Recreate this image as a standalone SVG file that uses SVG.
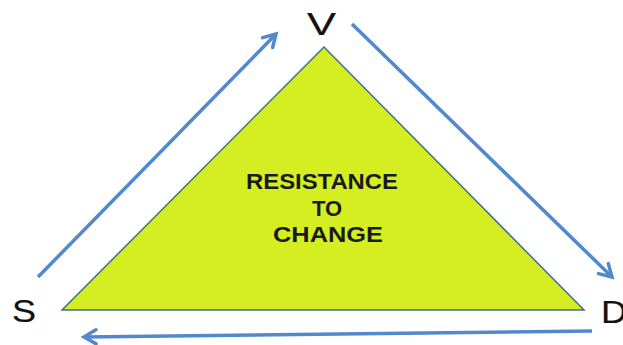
<svg xmlns="http://www.w3.org/2000/svg" width="623" height="345" viewBox="0 0 623 345">
  <style>
    .flow { fill: none; stroke: #5288cc; stroke-width: 3.5; marker-end: url(#chevron); }
    .corner { font-family: "Liberation Sans", Arial, sans-serif; font-size: 32px; fill: #111111; stroke: #111111; stroke-width: 0.2; }
    .core { font-family: "Liberation Sans", Arial, sans-serif; font-size: 22px; font-weight: bold; fill: #1a1a1a; text-anchor: middle; }
  </style>
  <defs>
    <marker id="chevron" viewBox="0 0 20 20" refX="16" refY="10" markerWidth="20" markerHeight="20" markerUnits="userSpaceOnUse" orient="auto">
      <path d="M4,3 L16,10 L4,17" fill="none" stroke="#5288cc" stroke-width="3.5" stroke-linecap="round" stroke-linejoin="miter"/>
    </marker>
  </defs>

  <rect width="623" height="345" fill="#ffffff"/>

  <!-- central triangle -->
  <g id="resistance">
    <polygon points="324,47 62,310 584,310" fill="#d5ee22" stroke="#3f6f8f" stroke-width="1.5" stroke-linejoin="miter"/>
    <text class="core" x="322" y="189" textLength="152" lengthAdjust="spacingAndGlyphs">RESISTANCE</text>
    <text class="core" x="327" y="216">TO</text>
    <text class="core" x="328" y="242" textLength="110" lengthAdjust="spacingAndGlyphs">CHANGE</text>
  </g>

  <!-- corner labels -->
  <g id="node-v">
    <text class="corner" x="307" y="35" textLength="29" lengthAdjust="spacingAndGlyphs">V</text>
  </g>
  <g id="node-s">
    <text class="corner" x="12" y="322" font-size="36" textLength="24" lengthAdjust="spacingAndGlyphs">S</text>
  </g>
  <g id="node-d">
    <text class="corner" x="601" y="323" font-size="33" textLength="26" lengthAdjust="spacingAndGlyphs">D</text>
  </g>

  <!-- cycle arrows -->
  <g id="connectors">
    <line class="flow" x1="38" y1="277" x2="276" y2="34"/>
    <line class="flow" x1="352" y1="24" x2="612" y2="277"/>
    <line class="flow" x1="592" y1="331" x2="84" y2="337"/>
  </g>
</svg>
